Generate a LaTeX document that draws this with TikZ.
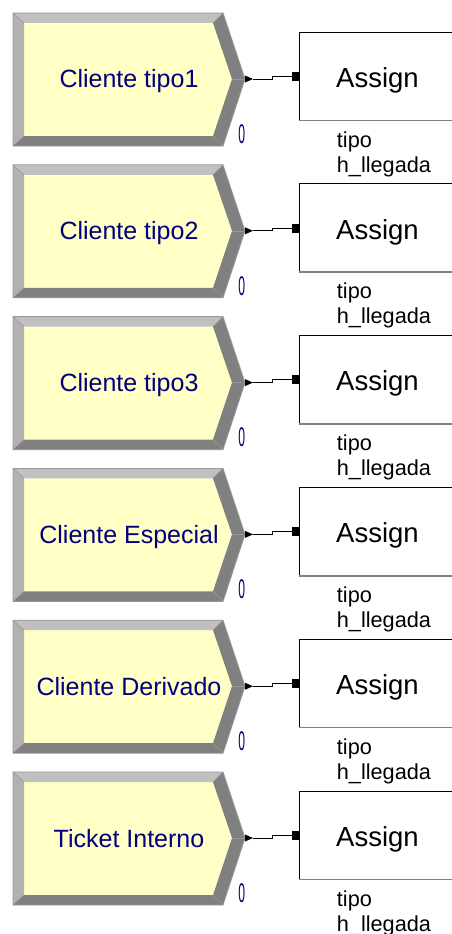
\documentclass[tikz,border=0pt]{standalone}
\usepackage{fontspec}
\setmainfont{Liberation Sans}
\definecolor{blkfill}{HTML}{FFFFC6}
\definecolor{bevlight}{HTML}{C0C0C0}
\definecolor{bevdark}{HTML}{808080}
\definecolor{bevline}{HTML}{989898}
\definecolor{navytxt}{HTML}{000080}
\tikzset{
  blocktext/.style={inner sep=0pt, anchor=base, text=navytxt, font=\fontsize{25}{30}\selectfont},
  zerolbl/.style={inner sep=0pt, anchor=center, text=navytxt, font=\fontsize{27}{32}\selectfont},
  assignbox/.style={inner sep=0pt, anchor=north west, minimum width=180pt, minimum height=88pt, fill=white, draw=none},
  assigntext/.style={inner sep=0pt, anchor=base, font=\fontsize{27.5}{32}\selectfont},
  attrlbl/.style={inner sep=0pt, anchor=base west, font=\fontsize{21.7}{26}\selectfont},
  conn/.style={draw=black, line width=0.9pt},
}
\begin{document}
\begin{tikzpicture}[x=1pt,y=-1pt]
\useasboundingbox (0,0) rectangle (452,934);
\fill[white] (0,0) rectangle (452,934);
\foreach \i/\t in {0/Cliente tipo1,1/Cliente tipo2,2/Cliente tipo3,3/Cliente Especial,4/Cliente Derivado,5/Ticket Interno}{
\begin{scope}[yshift={-151.8*\i pt}]
  % bevelled create block
  \fill[blkfill] (24,23) -- (213,23) -- (232,79) -- (213,136) -- (24,136) -- cycle;
  \fill[bevlight] (13,13) -- (223,13) -- (213,23) -- (24,23) -- cycle;
  \fill[bevlight!92!black] (13,13) -- (24,23) -- (24,136) -- (13,146) -- cycle;
  \fill[bevdark] (13,146) -- (223,146) -- (213,136) -- (24,136) -- cycle;
  \fill[bevdark] (223,13) -- (245,79) -- (232,79) -- (213,23) -- cycle;
  \fill[bevdark] (245,79) -- (223,146) -- (213,136) -- (232,79) -- cycle;
  \draw[bevline, line width=0.6pt] (232,79) -- (245,79);
  \draw[bevline, line width=0.6pt] (13,13) -- (24,23) (223,13) -- (213,23) (13,146) -- (24,136) (223,146) -- (213,136);
  \draw[bevline, line width=0.8pt] (13,13) -- (223,13) -- (245,79) -- (223,146) -- (13,146) -- cycle;
  \node[blocktext] (blk\i) at (129,88) {\t};
  \node[zerolbl] (zero\i) at (241.7,134) {\scalebox{0.45}[1]{0}};
  \coordinate (tip\i) at (245,79);
  % assign module
  \node[assignbox] (asg\i) at (299,32) {};
  \draw[black, line width=0.8pt] (asg\i.south west) -- (asg\i.north west) -- (asg\i.north east);
  \draw[bevdark, line width=1.6pt] (asg\i.south west) -- (asg\i.south east);
  \node[assigntext] (asgt\i) at (377.5,87.3) {Assign};
  \node[attrlbl] (lt\i) at (336.7,147) {tipo};
  \node[attrlbl] (lh\i) at (336.7,172) {h\_llegada};
  % connector
  \fill[black] (tip\i) -- ++(0,-3.5) -- ++(8,3.5) -- ++(-8,3.5) -- cycle;
  \draw[conn] ([xshift=8pt]tip\i) -- ++(19.5,0) |- (asg\i.west);
  \fill[black] ([xshift=-7pt,yshift=4.5pt]asg\i.west) rectangle ([yshift=-4.5pt]asg\i.west);
\end{scope}
}
\end{tikzpicture}
\end{document}
